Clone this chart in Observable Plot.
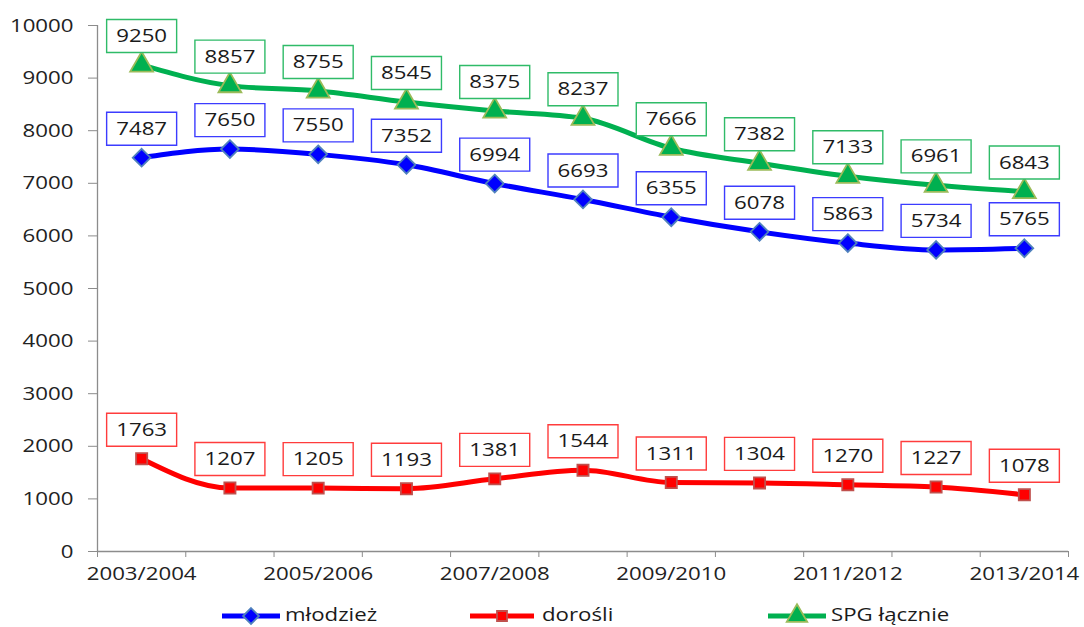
<!DOCTYPE html>
<html>
<head>
<meta charset="utf-8">
<script src="https://cdn.jsdelivr.net/npm/d3@7"></script>
<script src="https://cdn.jsdelivr.net/npm/@observablehq/plot@0.6"></script>
<style>
  html, body { margin: 0; padding: 0; background: #fff; }
  #chart { width: 1084px; height: 627px; position: relative; }
  svg text { font-family: "Open Sans", sans-serif; }
</style>
</head>
<body>
<div id="chart"></div>
<script>
const years = ["2003/2004","2004/2005","2005/2006","2006/2007","2007/2008","2008/2009","2009/2010","2010/2011","2011/2012","2012/2013","2013/2014"];
const mlodziez = [7487,7650,7550,7352,6994,6693,6355,6078,5863,5734,5765];
const dorosli = [1763,1207,1205,1193,1381,1544,1311,1304,1270,1227,1078];
const spg = [9250,8857,8755,8545,8375,8237,7666,7382,7133,6961,6843];
const yTicks = d3.range(0, 10001, 1000);
const seriesNames = ["młodzież", "dorośli", "SPG łącznie"];

const series = [
  {name: seriesNames[0], values: mlodziez, color: "#0000ff", mfill: "#0000ff", mstroke: "#4f81bd", symbol: "diamond2", r: 8, box: "#3c3cff"},
  {name: seriesNames[1], values: dorosli, color: "#ff0000", mfill: "#ff0000", mstroke: "#c0504d", symbol: "square", r: 6.3, box: "#ff3c3c"},
  {name: seriesNames[2], values: spg, color: "#00b050", mfill: "#00b050", mstroke: "#9bbb59", symbol: "triangle", r: 8.5, box: "#2fbb68"}
];

const rows = series.flatMap(s => s.values.map((v, i) => ({i, value: v, name: s.name, year: years[i]})));

const boxSymbol = { draw(ctx) { ctx.rect(-35, -16.5, 70, 33); } };

const axisColor = "#8c8c8c";
const fontSize = 19;

const marks = [
  Plot.ruleX([-0.5], {stroke: axisColor, strokeWidth: 1.3}),
  Plot.ruleY([0], {stroke: axisColor, strokeWidth: 1.3}),
  Plot.axisY({ticks: yTicks, tickSize: 9, tickPadding: 15, stroke: axisColor, fill: "#222", fontSize, label: null, tickFormat: d => String(d)}),
  Plot.axisX({ticks: d3.range(-0.5, 11, 1), tickSize: 6, stroke: axisColor, label: null, tickFormat: () => ""}),
  Plot.axisX({ticks: d3.range(0, 11, 2), tickSize: 0, tickPadding: 15, fill: "#222", fontSize, label: null, tickFormat: i => years[i]}),
];

for (const s of series) {
  const data = rows.filter(d => d.name === s.name);
  marks.push(
    Plot.line(data, {x: "i", y: "value", stroke: s.color, strokeWidth: 5, curve: "monotone-x"}),
    Plot.dot(data, {x: "i", y: "value", symbol: s.symbol, r: s.r, fill: s.mfill, stroke: s.mstroke, strokeWidth: 1.8})
  );
}
for (const s of series) {
  const data = rows.filter(d => d.name === s.name);
  marks.push(
    Plot.dot(data, {x: "i", y: "value", symbol: boxSymbol, dy: -29, fill: "white", stroke: s.box, strokeWidth: 1.4}),
    Plot.text(data, {x: "i", y: "value", text: d => String(d.value), dy: -29, fontSize, fill: "#1a1a1a"})
  );
}

const chart = Plot.plot({
  width: 1084,
  height: 588,
  marginLeft: 97,
  marginRight: 16,
  marginTop: 25,
  marginBottom: 37,
  style: {fontFamily: "Open Sans, sans-serif", background: "white", overflow: "visible"},
  x: {type: "linear", domain: [-0.5, 10.5], axis: null, label: null},
  y: {domain: [0, 10000], axis: null, label: null},
  marks
});
document.getElementById("chart").appendChild(chart);

// Legend
const legend = d3.select("#chart").append("svg").attr("width", 1084).attr("height", 39)
  .style("display", "block").style("overflow", "visible");
const legendItems = [
  {s: series[0], x1: 222, x2: 280, tx: 285},
  {s: series[1], x1: 470, x2: 534, tx: 542},
  {s: series[2], x1: 768, x2: 826, tx: 831}
];
const symMap = {diamond2: d3.symbolDiamond2, square: d3.symbolSquare, triangle: d3.symbolTriangle};
for (const it of legendItems) {
  const g = legend.append("g");
  const y = 28;
  g.append("line").attr("x1", it.x1).attr("x2", it.x2).attr("y1", y).attr("y2", y).attr("stroke", it.s.color).attr("stroke-width", 5);
  g.append("path").attr("transform", `translate(${(it.x1 + it.x2) / 2},${y})`)
    .attr("d", d3.symbol(symMap[it.s.symbol], it.s.r * it.s.r * Math.PI * 0.8)())
    .attr("fill", it.s.mfill).attr("stroke", it.s.mstroke).attr("stroke-width", 1.8);
  g.append("text").attr("x", it.tx).attr("y", 33).attr("font-size", fontSize).attr("fill", "#1a1a1a").text(it.s.name);
}

// widen text horizontally to mimic the reference's stretched lettering
document.querySelectorAll("#chart svg text").forEach(t => {
  const len = t.getComputedTextLength ? t.getComputedTextLength() : 0;
  if (len > 0) { t.setAttribute("textLength", (len * 1.17).toFixed(1)); t.setAttribute("lengthAdjust", "spacingAndGlyphs"); }
});
</script>
</body>
</html>
